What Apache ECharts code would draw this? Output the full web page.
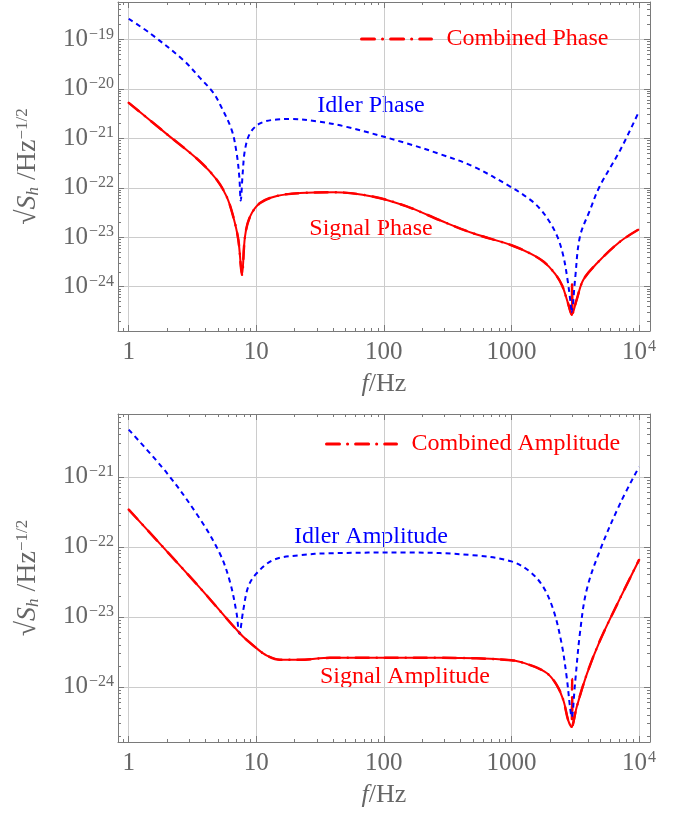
<!DOCTYPE html>
<html>
<head>
<meta charset="utf-8">
<script src="https://cdn.jsdelivr.net/npm/echarts@6/dist/echarts.min.js"></script>
<style>
  html, body { margin: 0; padding: 0; background: #fff; }
  #chart { width: 679px; height: 816px; }
</style>
</head>
<body>
<div id="chart"></div>
<script>
// ---- data (frequency in Hz, amplitude spectral density in 1/sqrt(Hz)) ----
const idlerPhaseF = [1, 1.47, 2.68, 3.62, 4.61, 5.2, 6.41, 7.01, 7.36, 7.55, 7.82, 8.15, 8.93, 10.7, 14.5, 18.4, 29.7, 51, 151, 275, 500, 1000, 1400, 1700, 2000, 2300, 2550, 2750, 2900, 2965, 3150, 3440, 4130, 4900, 7130, 10000];
const idlerPhase = [2.6e-19, 1.32e-19, 3.8e-20, 1.66e-20, 8.3e-21, 4.8e-21, 1.48e-21, 5.0e-22, 1.66e-22, 5.5e-23, 1.95e-22, 5.8e-22, 1.26e-21, 2.0e-21, 2.4e-21, 2.45e-21, 2.2e-21, 1.7e-21, 7.9e-22, 4.8e-22, 2.7e-22, 1.02e-22, 5.75e-23, 3.6e-23, 2.0e-23, 1.0e-23, 4.2e-24, 1.4e-24, 5.0e-25, 2.9e-25, 1.38e-24, 1.02e-23, 3.55e-23, 1.05e-22, 5.8e-22, 3.5e-21];

const signalPhaseF = [1, 2, 3.62, 4.9, 5.86, 6.6, 7.23, 7.73, 8.15, 8.93, 10.7, 14.5, 22, 40, 83, 151, 275, 500, 1000, 1400, 1800, 2200, 2500, 2750, 2965, 3240, 3660, 4660, 7080, 10000];
const signalPhase = [5.2e-21, 1.2e-21, 3.4e-22, 1.45e-22, 6.6e-23, 2.6e-23, 8.9e-24, 1.74e-24, 1.02e-23, 2.6e-23, 4.9e-23, 6.8e-23, 7.8e-23, 8.1e-23, 6.6e-23, 4.2e-23, 2.2e-23, 1.2e-23, 6.9e-24, 4.7e-24, 3.16e-24, 1.82e-24, 1.05e-24, 5.0e-25, 2.7e-25, 5.4e-25, 1.38e-24, 2.95e-24, 8.1e-24, 1.45e-23];

const combinedPhaseF = [1, 2, 3.62, 4.9, 5.86, 6.6, 7.23, 7.73, 8.15, 8.93, 10.7, 14.5, 22, 40, 83, 151, 275, 500, 1000, 1400, 1800, 2200, 2500, 2750, 2965, 2990, 3015, 3240, 3660, 4660, 7080, 10000];
const combinedPhase = [5.2e-21, 1.2e-21, 3.4e-22, 1.45e-22, 6.6e-23, 2.6e-23, 8.9e-24, 1.74e-24, 1.02e-23, 2.6e-23, 4.9e-23, 6.8e-23, 7.8e-23, 8.1e-23, 6.6e-23, 4.2e-23, 2.2e-23, 1.2e-23, 6.9e-24, 4.7e-24, 3.16e-24, 1.82e-24, 1.05e-24, 5.0e-25, 2.7e-25, 1.26e-24, 2.8e-25, 5.4e-25, 1.38e-24, 2.95e-24, 8.1e-24, 1.45e-23];

const idlerAmpF = [1, 2, 3.62, 5.2, 6.22, 7.01, 7.36, 7.91, 8.65, 10.07, 13.6, 22, 37.8, 151, 500, 1000, 1400, 1770, 2130, 2470, 2710, 2880, 2965, 3150, 3440, 3880, 4940, 7130, 10000];
const idlerAmp = [4.7e-21, 1.12e-21, 2.5e-22, 7.9e-23, 3.16e-23, 1.12e-23, 5.8e-24, 1.26e-23, 2.7e-23, 4.2e-23, 6.5e-23, 7.6e-23, 8.1e-23, 8.3e-23, 7.6e-23, 6.2e-23, 4.4e-23, 2.7e-23, 1.26e-23, 4.2e-24, 1.38e-24, 5.1e-25, 3.7e-25, 1.12e-24, 5.8e-24, 2.4e-23, 8.9e-23, 4.2e-22, 1.38e-21];

const signalAmpF = [1, 3.62, 7.45, 10.07, 12.1, 15.3, 22, 37.8, 275, 1000, 1400, 1890, 2260, 2550, 2790, 2965, 3240, 3910, 4970, 7080, 10000];
const signalAmp = [3.4e-22, 2.6e-23, 5.8e-24, 3.55e-24, 2.8e-24, 2.45e-24, 2.45e-24, 2.6e-24, 2.6e-24, 2.4e-24, 2.05e-24, 1.58e-24, 1.07e-24, 6.5e-25, 3.3e-25, 2.7e-25, 5.1e-25, 1.55e-24, 4.7e-24, 1.82e-23, 6.5e-23];

const combinedAmpF = [1, 3.62, 7.45, 10.07, 12.1, 15.3, 22, 37.8, 275, 1000, 1400, 1890, 2260, 2550, 2790, 2965, 2990, 3015, 3240, 3910, 4970, 7080, 10000];
const combinedAmp = [3.4e-22, 2.6e-23, 5.8e-24, 3.55e-24, 2.8e-24, 2.45e-24, 2.45e-24, 2.6e-24, 2.6e-24, 2.4e-24, 2.05e-24, 1.58e-24, 1.07e-24, 6.5e-25, 3.3e-25, 2.7e-25, 1.3e-24, 2.8e-25, 5.1e-25, 1.55e-24, 4.7e-24, 1.82e-23, 6.5e-23];

// tick labels
const xTickValues = [1, 10, 100, 1000, 10000];
const xTickLabels = ['1', '10', '100', '1000', '10^4'];
const yTicksTop = [1e-19, 1e-20, 1e-21, 1e-22, 1e-23, 1e-24];
const yTicksBottom = [1e-21, 1e-22, 1e-23, 1e-24];

// ---- styling ----
const SERIF = '"Liberation Serif", "DejaVu Serif", serif';
const AXIS_GRAY = '#7a7a7a';
const GRID_GRAY = '#cccccc';
const LABEL_GRAY = '#666666';
const RED = '#ff0000';
const BLUE = '#0000ff';

const lg = Math.log10;
const toPairs = (fs, vs) => fs.map((f, i) => [lg(f), lg(vs[i])]);

const richLabel = {
  b: { fontSize: 25, fontFamily: SERIF, color: LABEL_GRAY, lineHeight: 26 },
  s: { fontSize: 16, fontFamily: SERIF, color: LABEL_GRAY, lineHeight: 16, verticalAlign: 'top', padding: [0, 0, 0, 1] }
};
function toRich(label) {
  const parts = label.split('^');
  if (parts.length === 1) return '{b|' + label + '}';
  return '{b|' + parts[0] + '}{s|' + parts[1].replace('-', '\u2212') + '}';
}
const yLabel = v => '10^' + Math.round(lg(v));

function decadeTicks(min, max, minor) {
  const out = [];
  for (let n = Math.floor(min) - 1; n <= Math.ceil(max); n++) {
    const ks = minor ? [2, 3, 4, 5, 6, 7, 8, 9] : [1];
    ks.forEach(k => {
      const v = n + lg(k);
      if (v >= min && v <= max) out.push(v);
    });
  }
  return out;
}

// four axes per direction: main (with labels), minor ticks, opposite major, opposite minor
function makeAxes(dim, gridIndex, min, max, extra) {
  const sides = dim === 'x' ? ['bottom', 'top'] : ['left', 'right'];
  const axes = [];
  sides.forEach((pos, si) => {
    [false, true].forEach(minor => {
      const base = {
        type: 'value', gridIndex: gridIndex, position: pos, min: min, max: max,
        axisLine: { show: !minor, onZero: false, lineStyle: { color: AXIS_GRAY, width: 1 } },
        axisTick: { show: true, inside: true, length: minor ? 3 : 6,
          customValues: decadeTicks(min, max, minor), lineStyle: { color: AXIS_GRAY, width: 1 } },
        axisLabel: { show: false },
        splitLine: { show: false }
      };
      axes.push(si === 0 && !minor ? Object.assign(base, extra) : base);
    });
  });
  return axes;
}

function xMain() {
  return {
    splitNumber: 4,
    splitLine: { show: true, lineStyle: { color: GRID_GRAY, width: 1 } },
    axisLabel: {
      show: true, margin: 8, customValues: xTickValues.map(lg),
      formatter: v => toRich(xTickLabels[xTickValues.findIndex(t => Math.abs(lg(t) - v) < 1e-6)]),
      rich: richLabel
    },
    name: '{i|f}{n|/Hz}', nameLocation: 'middle', nameGap: 40,
    nameTextStyle: {
      rich: {
        i: { fontSize: 26, fontFamily: SERIF, fontStyle: 'italic', color: LABEL_GRAY },
        n: { fontSize: 26, fontFamily: SERIF, color: LABEL_GRAY }
      }
    }
  };
}

function yMain(ticks, splitNumber) {
  return {
    splitNumber: splitNumber,
    splitLine: { show: true, lineStyle: { color: GRID_GRAY, width: 1 } },
    axisLabel: {
      show: true, margin: 4, customValues: ticks.map(lg),
      formatter: v => toRich(yLabel(Math.pow(10, v))),
      rich: richLabel
    },
    name: '{n|\u221A}{i|S}{sub|h}{n| /Hz}{sup|\u22121/2}', nameLocation: 'middle', nameGap: 76,
    nameTextStyle: {
      rich: {
        n: { fontSize: 28, fontFamily: SERIF, color: LABEL_GRAY },
        i: { fontSize: 28, fontFamily: SERIF, fontStyle: 'italic', color: LABEL_GRAY },
        sub: { fontSize: 17, fontFamily: SERIF, fontStyle: 'italic', color: LABEL_GRAY, verticalAlign: 'bottom', lineHeight: 16 },
        sup: { fontSize: 17, fontFamily: SERIF, color: LABEL_GRAY, verticalAlign: 'top', lineHeight: 16 }
      }
    }
  };
}

const xMin = -0.084, xMax = 4.086;
const xAxes = makeAxes('x', 0, xMin, xMax, xMain()).concat(makeAxes('x', 1, xMin, xMax, xMain()));
const yAxes = makeAxes('y', 0, -24.895, -18.246, yMain(yTicksTop, 7))
  .concat(makeAxes('y', 1, -24.786, -20.104, yMain(yTicksBottom, 5)));

const dotDash = [13, 8, 0.1, 8];

function line(name, fs, vs, panel, color, type, width, z) {
  return {
    name: name, type: 'line', xAxisIndex: panel * 4, yAxisIndex: panel * 4,
    data: toPairs(fs, vs), symbol: 'none', smooth: 0.35,
    lineStyle: { color: color, type: type, width: width, cap: type === dotDash ? 'round' : 'butt' },
    itemStyle: { color: color }, z: z, silent: true
  };
}

const annotations = [
  { text: 'Idler Phase', x: 371, y: 106, color: BLUE },
  { text: 'Signal Phase', x: 371, y: 229, color: RED },
  { text: 'Idler Amplitude', x: 371, y: 537, color: BLUE },
  { text: 'Signal Amplitude', x: 405, y: 677, color: RED }
];

const legendBase = {
  itemWidth: 70, itemHeight: 20, itemGap: 0,
  itemStyle: { opacity: 0 },
  lineStyle: { color: RED, width: 3, type: dotDash, cap: 'round' },
  textStyle: { color: RED, fontSize: 24, fontFamily: SERIF, padding: [0, 0, 0, 10] }
};

const chart = echarts.init(document.getElementById('chart'));
chart.setOption({
  animation: false,
  backgroundColor: '#ffffff',
  grid: [
    { left: 118, top: 2, width: 532, height: 329 },
    { left: 118, top: 414, width: 532, height: 328 }
  ],
  xAxis: xAxes,
  yAxis: yAxes,
  legend: [
    Object.assign({ data: ['Combined Phase'], left: 355, top: 22 }, legendBase),
    Object.assign({ data: ['Combined Amplitude'], left: 320, top: 427 }, legendBase)
  ],
  graphic: annotations.map(a => ({
    type: 'text', x: a.x, y: a.y, silent: true,
    style: { text: a.text, fill: a.color, fontSize: 24, fontFamily: SERIF, align: 'center', verticalAlign: 'middle' }
  })),
  series: [
    line('Combined Phase', combinedPhaseF, combinedPhase, 0, RED, dotDash, 2.5, 2),
    line('Idler Phase', idlerPhaseF, idlerPhase, 0, BLUE, [5, 4], 2, 3),
    line('Signal Phase', signalPhaseF, signalPhase, 0, RED, 'solid', 2, 4),
    line('Combined Amplitude', combinedAmpF, combinedAmp, 1, RED, dotDash, 2.5, 2),
    line('Idler Amplitude', idlerAmpF, idlerAmp, 1, BLUE, [5, 4], 2, 3),
    line('Signal Amplitude', signalAmpF, signalAmp, 1, RED, 'solid', 2, 4)
  ]
});
</script>
</body>
</html>
